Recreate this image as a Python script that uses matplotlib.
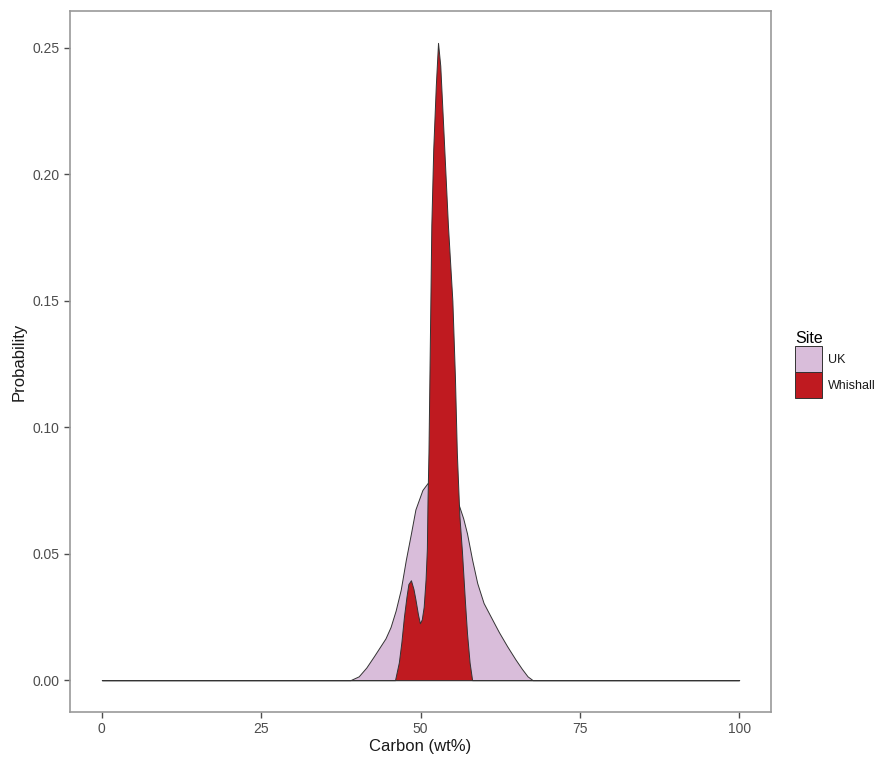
import matplotlib
matplotlib.use("Agg")
import matplotlib.pyplot as plt
from matplotlib.patches import Patch

plt.rcParams['font.family'] = ['Liberation Sans', 'DejaVu Sans']

### density curves ###
# UK
uk_x = [0.0, 39.0, 40.3, 41.5, 42.7, 43.6, 44.5, 45.3, 46.1, 46.9, 47.7, 48.5, 49.2, 50.3,
        51.1, 52.0, 53.0, 54.0, 55.0, 56.0, 56.7, 57.3, 58.1, 58.9, 59.9, 61.0, 62.3,
        63.6, 64.9, 65.9, 66.8, 67.6, 100.0]
uk_y = [0.0, 0.0, 0.0015, 0.005, 0.0095, 0.013, 0.0165, 0.021, 0.0275, 0.0358, 0.0476,
        0.058, 0.0675, 0.0752, 0.0779, 0.0775, 0.0755, 0.0735, 0.0715, 0.0693, 0.064,
        0.058, 0.0476, 0.0384, 0.0305, 0.0252, 0.019, 0.0134, 0.0082, 0.0045, 0.0015,
        0.0, 0.0]

# Whishall
wh_x = [0.0, 46.0, 46.6, 47.0, 47.4, 47.8, 48.1, 48.5, 48.9, 49.2, 49.6, 49.9, 50.2, 50.5,
        50.8, 51.0, 51.1, 51.25, 51.4, 51.55, 51.7, 52.0, 52.4, 52.75, 53.1, 53.6, 54.3,
        55.0, 55.4, 55.7, 56.1, 56.5, 57.0, 57.3, 57.7, 58.1, 100.0]
wh_y = [0.0, 0.0, 0.007, 0.015, 0.025, 0.033, 0.038, 0.0395, 0.036, 0.032, 0.026, 0.0225,
        0.024, 0.029, 0.040, 0.052, 0.071, 0.09, 0.12, 0.15, 0.18, 0.21, 0.235, 0.252,
        0.243, 0.217, 0.18, 0.15, 0.12, 0.09, 0.065, 0.051, 0.03, 0.0185, 0.007, 0.0, 0.0]

sites = ["UK", "Whishall"]
x_ticks = [0, 25, 50, 75, 100]
y_ticks = [0.00, 0.05, 0.10, 0.15, 0.20, 0.25]

col_uk = "#D9BDDA"
col_wh = "#BF1A20"
col_edge = "#333333"

fig = plt.figure(figsize=(8.84, 7.58), dpi=100)
ax = fig.add_axes([70/884, 1-712/758, 701/884, 701/758])

ax.fill_between(uk_x, 0, uk_y, facecolor=col_uk, edgecolor=col_edge, linewidth=0.7)
ax.fill_between(wh_x, 0, wh_y, facecolor=col_wh, edgecolor=col_edge, linewidth=0.7)

ax.set_xlim(-5, 105)
ax.set_ylim(-0.0126, 0.2646)
ax.set_xticks(x_ticks)
ax.set_xticklabels([str(t) for t in x_ticks])
ax.set_yticks(y_ticks)
ax.set_yticklabels(["%.2f" % t for t in y_ticks])

for s in ax.spines.values():
    s.set_color("#9a9a9a")
    s.set_linewidth(1.2)
ax.tick_params(colors="#4d4d4d", labelcolor="#4d4d4d", length=4, width=1, labelsize=10)

ax.set_xlabel("Carbon (wt%)", fontsize=12, color="#1a1a1a", labelpad=2)
ax.set_ylabel("Probability", fontsize=12, color="#1a1a1a", labelpad=4)

handles = [Patch(facecolor=col_uk, edgecolor=col_edge, linewidth=0.7),
           Patch(facecolor=col_wh, edgecolor=col_edge, linewidth=0.7)]
leg = fig.legend(handles, sites, title="Site", loc="upper left",
                 bbox_to_anchor=(789/884, 1-325/758), frameon=False,
                 fontsize=9, title_fontsize=11.5, handlelength=2.15, handleheight=2.8,
                 labelspacing=0.0, handletextpad=0.5, borderpad=0, alignment="left")
for t in leg.get_texts():
    t.set_color("#1a1a1a")

fig.savefig("out.png", dpi=100)
